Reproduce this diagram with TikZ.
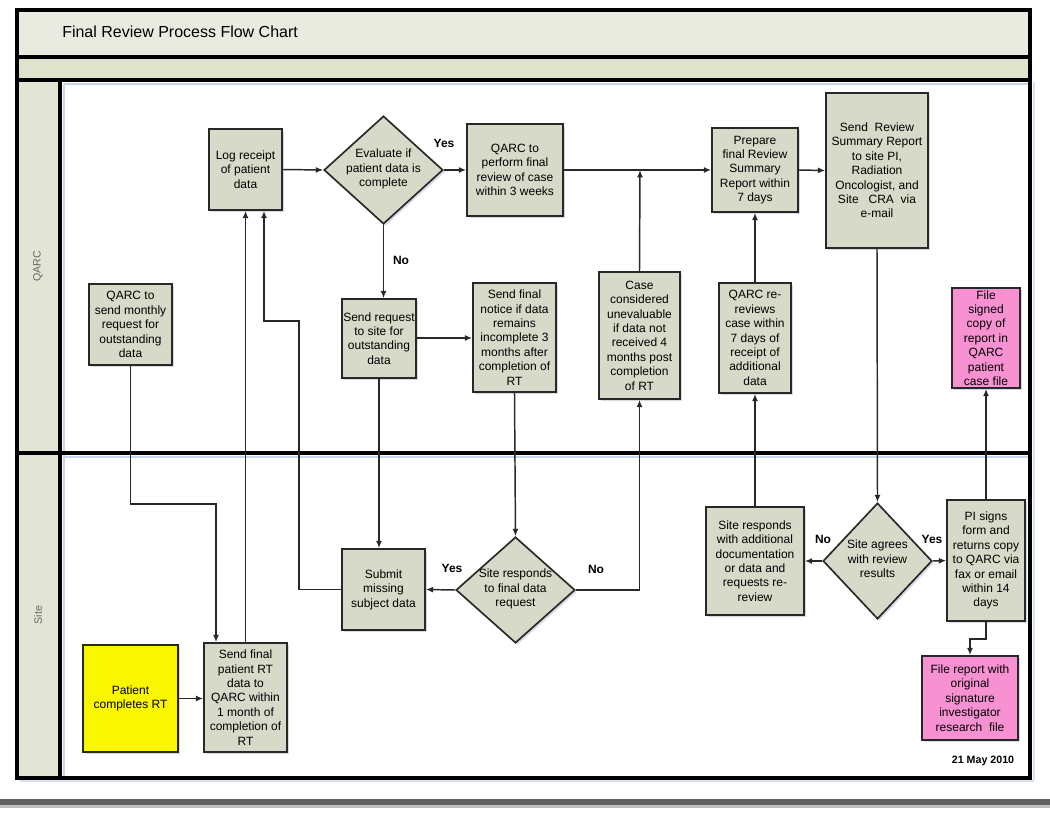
\documentclass[tikz,border=0pt]{standalone}
\usepackage{fontspec}
\setmainfont{Liberation Sans}
\usetikzlibrary{shapes.geometric,arrows.meta,shadows}
\definecolor{boxfill}{RGB}{215,218,200}
\definecolor{pinkfill}{RGB}{247,145,210}
\definecolor{yelfill}{RGB}{250,245,0}
\definecolor{titlefill}{RGB}{233,234,224}
\definecolor{bandfill}{RGB}{223,227,204}
\definecolor{lanefill}{RGB}{226,229,212}
\definecolor{edge}{RGB}{40,40,40}
\definecolor{faintblue}{RGB}{200,212,232}
\begin{document}
\begin{tikzpicture}[x=0.75pt,y=-0.75pt,
  sz/.style 2 args={minimum width=#1*0.75pt,minimum height=#2*0.75pt},
  shade/.style={drop shadow={fill=faintblue!80!gray,opacity=0.6,shadow xshift=1.5pt,shadow yshift=-1.5pt}},
  proc/.style={draw=edge,line width=1.25pt,fill=boxfill,inner sep=0pt,align=center,
     font=\fontsize{9}{10.8}\selectfont,shade},
  pinkbox/.style={proc,fill=pinkfill},
  yelbox/.style={proc,fill=yelfill},
  dia/.style={diamond,draw=edge,line width=1.25pt,fill=boxfill,inner sep=0pt,shade},
  dtxt/.style={align=center,font=\fontsize{9}{10.8}\selectfont,inner sep=0pt},
  lbl/.style={font=\fontsize{9}{10.8}\selectfont\bfseries,inner sep=0pt},
  lanelbl/.style={rotate=90,font=\fontsize{8}{9}\selectfont,text=black!60,inner sep=0pt},
  arr/.style={draw=edge,line width=1.1pt,-{Latex[length=5.5pt,width=4.5pt]}},
  thick border/.style={draw=black,line width=3pt}
]
\useasboundingbox (0,0) rectangle (1050,814);
\fill[white] (0,0) rectangle (1050,814);

% title and band
\fill[titlefill] (17,10) rectangle (1030,57);
\fill[bandfill] (17,57) rectangle (1030,80);
\node[anchor=west,font=\fontsize{12}{14}\selectfont,inner sep=0pt] (title) at (62,32) {Final Review Process Flow Chart};

% pool
\fill[lanefill] (17,80) rectangle (60,778);
\draw[faintblue,line width=1.5pt] (64,84) -- (1028,84);
\draw[faintblue,line width=1.5pt] (64,84) -- (64,776);
\draw[faintblue,line width=1.5pt] (64,457) -- (1028,457);
\draw[faintblue!70,line width=2pt] (1034,82) -- (1034,780);
\draw[faintblue!70,line width=2pt] (20,781) -- (1034,781);

\draw[thick border] (17,10) rectangle (1030,778);
\draw[thick border] (17,57) -- (1030,57);
\draw[thick border] (17,80) -- (1030,80);
\draw[thick border] (60,80) -- (60,778);
\draw[thick border] (17,453) -- (1030,453);

\node[lanelbl] (lqarc) at (38,266) {QARC};
\node[lanelbl] (lsite) at (38,615) {Site};

% bottom bar
\fill[black!62] (0,799) rectangle (1050,805);
\fill[black!25] (0,805) rectangle (1050,808);

% QARC lane nodes
\node[proc,sz={73}{81}] (log) at (245.5,169.5) {Log receipt\\of patient\\data};
\node[dia,sz={119}{108}] (eval) at (383.5,170) {};
\node[dtxt] (evalt) at (383.5,169) {Evaluate if\\patient data is\\complete};
\node[proc,sz={96}{92}] (perform) at (515,170) {QARC to\\perform final\\review of case\\within 3 weeks};
\node[proc,sz={83}{81}] (monthly) at (130.5,324.5) {QARC to\\send monthly\\request for\\outstanding\\data};
\node[proc,sz={74}{79}] (sendreq) at (379,338.5) {Send request\\to site for\\outstanding\\data};
\node[proc,sz={83}{109}] (notice) at (514.5,337.5) {Send final\\notice if data\\remains\\incomplete 3\\months after\\completion of\\RT};
\node[proc,sz={81}{127}] (case) at (639.5,335.5) {Case\\considered\\unevaluable\\if data not\\received 4\\months post\\completion\\of RT};
\node[proc,sz={86}{84}] (prepare) at (755,170) {Prepare\\final Review\\Summary\\Report within\\7 days};
\node[proc,sz={102}{155}] (sendsum) at (877,170.5) {Send\ \ Review\\Summary Report\\to site PI,\\Radiation\\Oncologist, and\\Site\ \ \ CRA\ \ via\\e-mail};
\node[proc,sz={72}{110}] (rereview) at (755,338) {QARC re-\\reviews\\case within\\7 days of\\receipt of\\additional\\data};
\node[pinkbox,sz={68}{100}] (filesigned) at (986,338) {File\\signed\\copy of\\report in\\QARC\\patient\\case file};

% Site lane nodes
\node[yelbox,sz={95}{107}] (patient) at (130.5,698.5) {Patient\\completes RT};
\node[proc,sz={83}{109}] (sendrt) at (245.5,697.5) {Send final\\patient RT\\data to\\QARC within\\1 month of\\completion of\\RT};
\node[proc,sz={83}{81}] (submit) at (383.5,589.5) {Submit\\missing\\subject data};
\node[dia,sz={119}{106}] (siteresp) at (515.5,590) {};
\node[dtxt] (siterespt) at (515.5,589) {Site responds\\to final data\\request};
\node[proc,sz={98}{108}] (siteadd) at (755,561) {Site responds\\with additional\\documentation\\or data and\\requests re-\\review};
\node[dia,sz={109}{116}] (agrees) at (877.5,561) {};
\node[dtxt] (agreest) at (877.5,559) {Site agrees\\with review\\results};
\node[proc,sz={78}{121}] (pisigns) at (986,560.5) {PI signs\\form and\\returns copy\\to QARC via\\fax or email\\within 14\\days};
\node[pinkbox,sz={96}{84}] (filereport) at (970,698) {File report with\\original\\signature\\investigator\\research\ \ file};

% helper coordinates
\coordinate (j1) at (216,504);
\coordinate (j2) at (299,321);
\coordinate (j3) at (264,321);
\coordinate (j4) at (640,170);
\coordinate (j5) at (970,639);

% connectors
\draw[arr] (patient.east) -- (sendrt.west |- patient.east);
\draw[arr] (monthly.south) |- (j1) -- (j1 |- sendrt.north);
\draw[arr] (sendrt.north) -- (log.south);
\draw[arr] (submit.west) -| (j2) -- (j3) -- (j3 |- log.south);
\draw[arr] (log.east) -- (eval.west);
\draw[arr] (eval.east) -- (perform.west);
\draw[arr] (eval.south) -- (sendreq.north -| eval.south);
\draw[arr] (sendreq.east |- 0,338) -- (notice.west |- 0,338);
\draw[arr] (sendreq.south) -- (submit.north -| sendreq.south);
\draw[arr] (notice.south) -- (siteresp.north);
\draw[arr] (siteresp.west) -- (submit.east);
\draw[arr] (siteresp.east) -| (case.south);
\draw[arr] (case.north) -- (j4);
\draw[arr] (perform.east) -- (prepare.west);
\draw[arr] (prepare.east) -- (sendsum.west);
\draw[arr] (rereview.north) -- (prepare.south);
\draw[arr] (siteadd.north) -- (rereview.south);
\draw[arr] (sendsum.south) -- (agrees.north);
\draw[arr] (agrees.west) -- (siteadd.east);
\draw[arr] (agrees.east) -- (pisigns.west);
\draw[arr] (pisigns.north) -- (filesigned.south);
\draw[arr] (pisigns.south) |- (j5) -- (filereport.north);

% labels
\node[lbl] (yes1) at (444,143) {Yes};
\node[lbl] (no1) at (401,260) {No};
\node[lbl] (yes2) at (452,568) {Yes};
\node[lbl] (no2) at (596,569) {No};
\node[lbl] (no3) at (823,539) {No};
\node[lbl] (yes3) at (932,539) {Yes};
\node[font=\fontsize{8}{9.6}\selectfont\bfseries,inner sep=0pt] (date) at (983,761) {21 May 2010};
\end{tikzpicture}
\end{document}
